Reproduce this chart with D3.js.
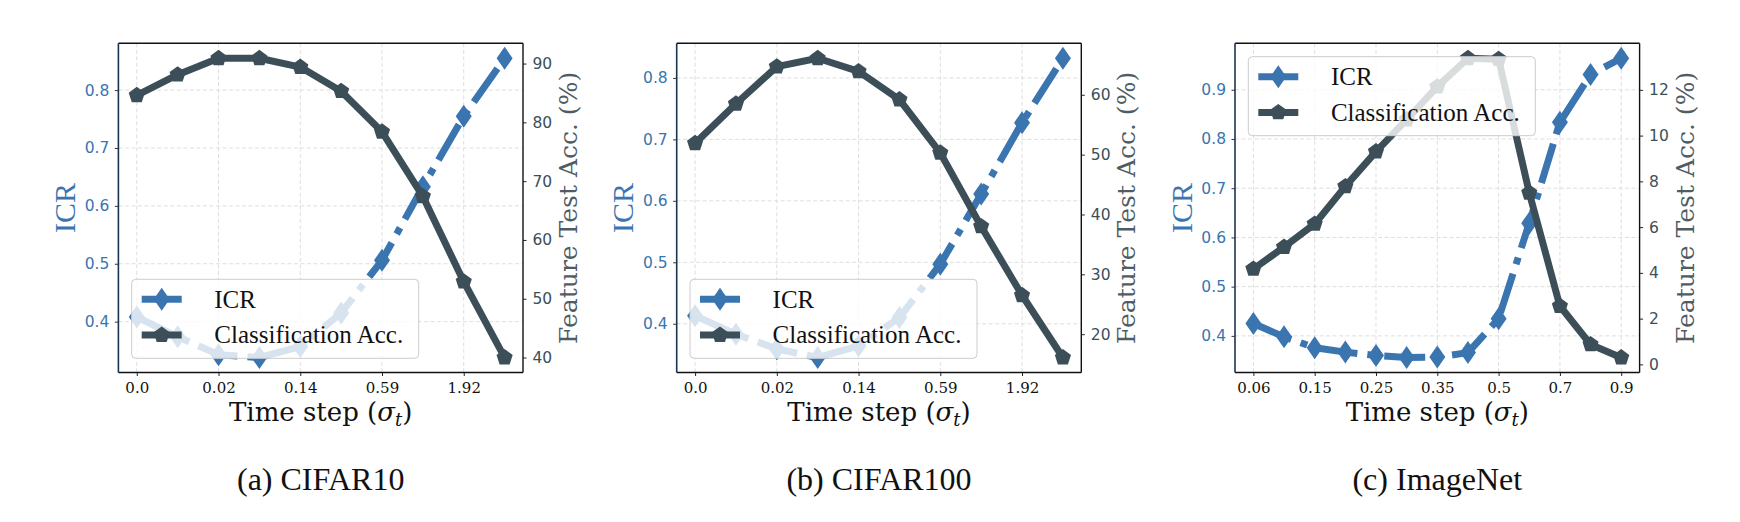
<!DOCTYPE html>
<html><head><meta charset="utf-8">
<script src="https://cdn.jsdelivr.net/npm/d3@7/dist/d3.min.js"></script>
<style>body{margin:0;background:#fff}</style>
</head><body><svg id="c" width="1740" height="522"></svg>
<script>
// ---------- data ----------
const cifarTickLabels = ["0.0", "0.02", "0.14", "0.59", "1.92"];
const imagenetTickLabels = ["0.06", "0.15", "0.25", "0.35", "0.5", "0.7", "0.9"];

const cifar10ICR = [0.408, 0.374, 0.343, 0.338, 0.357, 0.415, 0.506, 0.633, 0.755, 0.855];
const cifar10Acc = [84.6, 88.1, 90.9, 90.9, 89.4, 85.3, 78.4, 67.4, 52.9, 40.0];

const cifar100ICR = [0.413, 0.383, 0.359, 0.345, 0.364, 0.410, 0.497, 0.611, 0.727, 0.832];
const cifar100Acc = [51.9, 58.5, 64.7, 66.1, 63.9, 59.2, 50.3, 38.0, 26.5, 16.1];

const imagenetICR = [0.425, 0.398, 0.376, 0.367, 0.360, 0.356, 0.357, 0.366, 0.435, 0.629, 0.834, 0.931, 0.964];
const imagenetAcc = [4.17, 5.13, 6.14, 7.78, 9.30, 10.70, 12.14, 13.38, 13.34, 7.50, 2.55, 0.87, 0.30];

const icrTicksCifar = [0.4, 0.5, 0.6, 0.7, 0.8];
const icrTicksImagenet = [0.4, 0.5, 0.6, 0.7, 0.8, 0.9];
const accTicksCifar10 = [40, 50, 60, 70, 80, 90];
const accTicksCifar100 = [20, 30, 40, 50, 60];
const accTicksImagenet = [0, 2, 4, 6, 8, 10, 12];

const captions = ["(a) CIFAR10", "(b) CIFAR100", "(c) ImageNet"];
const seriesNames = ["ICR", "Classification Acc."];

// ---------- style ----------
const BLUE = "#3a75b0", DARK = "#3c4f58";
const TOP = 43.3, PH = 329.2, PW = 404.6;
const svg = d3.select("#c");

const panels = [
  {left: 118.4, ticks: cifarTickLabels, icr: cifar10ICR, acc: cifar10Acc, lt: icrTicksCifar, rt: accTicksCifar10, legend: "bottom", caption: captions[0]},
  {left: 676.7, ticks: cifarTickLabels, icr: cifar100ICR, acc: cifar100Acc, lt: icrTicksCifar, rt: accTicksCifar100, legend: "bottom", caption: captions[1]},
  {left: 1235.0, ticks: imagenetTickLabels, icr: imagenetICR, acc: imagenetAcc, lt: icrTicksImagenet, rt: accTicksImagenet, legend: "top", caption: captions[2]}
];

const diamond = (w, h) => `M0,${-h}L${w},0L0,${h}L${-w},0Z`;
const pentagon = r => {
  const pts = d3.range(5).map(k => {
    const a = -Math.PI / 2 + k * 2 * Math.PI / 5;
    return [r * Math.cos(a), r * Math.sin(a)];
  });
  return "M" + pts.map(p => p.join(",")).join("L") + "Z";
};
const DIA = diamond(8, 11.5), PENT = pentagon(8.5);

function pad(a) {
  const [lo, hi] = d3.extent(a);
  const m = (hi - lo) * 0.05;
  return [lo - m, hi + m];
}

panels.forEach(p => {
  const n = p.icr.length;
  const x = d3.scaleLinear().domain([-0.05 * (n - 1), 1.05 * (n - 1)]).range([p.left, p.left + PW]);
  const yL = d3.scaleLinear().domain(pad(p.icr)).range([TOP + PH, TOP]);
  const yR = d3.scaleLinear().domain(pad(p.acc)).range([TOP + PH, TOP]);
  const tickIdx = p.ticks.map((_, i) => i * 2);
  const g = svg.append("g");
  const R = p.left + PW, B = TOP + PH;

  // grid
  const grid = g.append("g").attr("stroke", "#dedede").attr("stroke-width", 1).attr("stroke-dasharray", "4,2.5");
  grid.selectAll("line.v").data(tickIdx).join("line").attr("class", "v")
    .attr("x1", d => x(d)).attr("x2", d => x(d)).attr("y1", TOP).attr("y2", B);
  grid.selectAll("line.h").data(p.lt).join("line").attr("class", "h")
    .attr("x1", p.left).attr("x2", R).attr("y1", d => yL(d)).attr("y2", d => yL(d));

  // ICR line
  const idx = d3.range(n);
  const lineL = d3.line().x(i => x(i)).y(i => yL(p.icr[i]));
  g.append("path").attr("d", lineL(idx)).attr("fill", "none").attr("stroke", BLUE)
    .attr("stroke-width", 7).attr("stroke-dasharray", "41,10,7,10").attr("stroke-linejoin", "round");
  g.selectAll("path.dm").data(idx).join("path").attr("class", "dm")
    .attr("d", DIA).attr("fill", BLUE)
    .attr("transform", i => `translate(${x(i)},${yL(p.icr[i])})`);

  // Acc line
  const lineR = d3.line().x(i => x(i)).y(i => yR(p.acc[i]));
  g.append("path").attr("d", lineR(idx)).attr("fill", "none").attr("stroke", DARK)
    .attr("stroke-width", 7).attr("stroke-linejoin", "round").attr("stroke-linecap", "square");
  g.selectAll("path.pt").data(idx).join("path").attr("class", "pt")
    .attr("d", PENT).attr("fill", DARK)
    .attr("transform", i => `translate(${x(i)},${yR(p.acc[i])})`);

  // spines
  g.append("line").attr("x1", p.left).attr("x2", R).attr("y1", TOP).attr("y2", TOP).attr("stroke", "#111").attr("stroke-width", 1.4);
  g.append("line").attr("x1", p.left).attr("x2", R).attr("y1", B).attr("y2", B).attr("stroke", "#111").attr("stroke-width", 1.4);
  g.append("line").attr("x1", R).attr("x2", R).attr("y1", TOP).attr("y2", B).attr("stroke", "#111").attr("stroke-width", 1.4);
  g.append("line").attr("x1", p.left).attr("x2", p.left).attr("y1", TOP).attr("y2", B).attr("stroke", "#1b3450").attr("stroke-width", 1.6);

  // axes
  const axL = g.append("g").attr("transform", `translate(${p.left},0)`)
    .call(d3.axisLeft(yL).tickValues(p.lt).tickSize(3.5).tickPadding(5.5).tickFormat(d3.format(".1f")));
  axL.select(".domain").remove();
  axL.selectAll("line").attr("stroke", "#333");
  axL.selectAll("text").attr("fill", BLUE).attr("font-family", "DejaVu Sans").attr("font-size", 15.5);

  const axR = g.append("g").attr("transform", `translate(${R},0)`)
    .call(d3.axisRight(yR).tickValues(p.rt).tickSize(3.5).tickPadding(6).tickFormat(d3.format("d")));
  axR.select(".domain").remove();
  axR.selectAll("line").attr("stroke", "#222");
  axR.selectAll("text").attr("fill", DARK).attr("font-family", "DejaVu Sans").attr("font-size", 15.5);

  const axB = g.append("g").attr("transform", `translate(0,${B})`)
    .call(d3.axisBottom(x).tickValues(tickIdx).tickSize(3.5).tickPadding(6.5).tickFormat((d, i) => p.ticks[i]));
  axB.select(".domain").remove();
  axB.selectAll("line").attr("stroke", "#222");
  axB.selectAll("text").attr("fill", "#111").attr("font-family", "DejaVu Serif").attr("font-size", 15);

  // axis labels
  const cy = TOP + PH / 2;
  g.append("text").attr("transform", `translate(${p.left - 43.4},${cy}) rotate(-90)`)
    .attr("text-anchor", "middle").attr("font-family", "Liberation Serif").attr("font-size", 30)
    .attr("fill", BLUE).text("ICR");
  g.append("text").attr("transform", `translate(${R + 54},${cy}) rotate(-90)`)
    .attr("text-anchor", "middle").attr("font-family", "DejaVu Serif").attr("font-size", 25)
    .attr("fill", "#4f5c63").text("Feature Test Acc. (%)");
  const xl = g.append("text").attr("x", p.left + PW / 2).attr("y", B + 48)
    .attr("text-anchor", "middle").attr("font-family", "DejaVu Serif").attr("font-size", 26).attr("fill", "#111");
  xl.append("tspan").text("Time step (");
  xl.append("tspan").attr("font-style", "italic").text("σ");
  xl.append("tspan").attr("font-style", "italic").attr("font-size", 18).attr("dy", 5).text("t");
  xl.append("tspan").attr("dy", -5).text(")");

  // legend
  const LW = 287, LH = 79;
  const lx = p.left + 13.3;
  const ly = p.legend === "bottom" ? B - 14.2 - LH : TOP + 13.4;
  const lg = g.append("g").attr("transform", `translate(${lx},${ly})`);
  lg.append("rect").attr("width", LW).attr("height", LH).attr("rx", 4)
    .attr("fill", "#fff").attr("fill-opacity", 0.8).attr("stroke", "#cccccc").attr("stroke-width", 1);
  const rows = [20, 55.7];
  lg.append("line").attr("x1", 10).attr("x2", 50).attr("y1", rows[0]).attr("y2", rows[0])
    .attr("stroke", BLUE).attr("stroke-width", 7);
  lg.append("path").attr("d", DIA).attr("fill", BLUE).attr("transform", `translate(30,${rows[0]})`);
  lg.append("line").attr("x1", 10).attr("x2", 50).attr("y1", rows[1]).attr("y2", rows[1])
    .attr("stroke", DARK).attr("stroke-width", 7);
  lg.append("path").attr("d", PENT).attr("fill", DARK).attr("transform", `translate(30,${rows[1]})`);
  lg.selectAll("text").data(seriesNames).join("text")
    .attr("x", 82.6).attr("y", (d, i) => rows[i] + 8.4)
    .attr("font-family", "Liberation Serif").attr("font-size", 25).attr("fill", "#111").text(d => d);

  // caption
  svg.append("text").attr("x", p.left + PW / 2).attr("y", 490).attr("text-anchor", "middle")
    .attr("font-family", "Liberation Serif").attr("font-size", 32).attr("fill", "#111").text(p.caption);
});
</script>
</body></html>
